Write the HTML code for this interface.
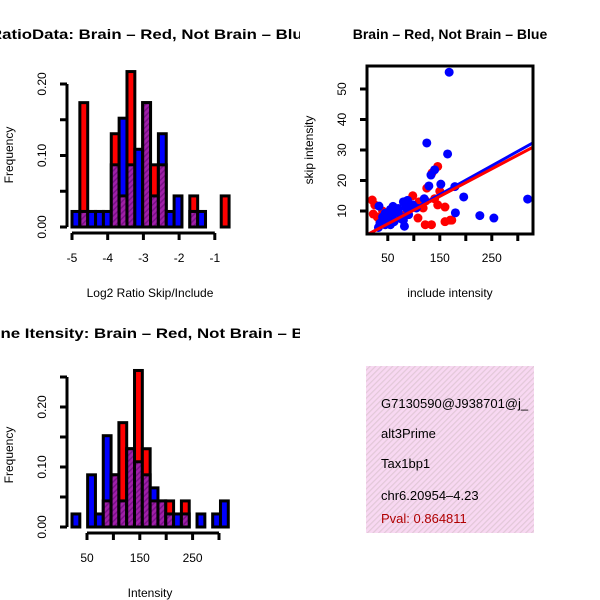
<!DOCTYPE html>
<html><head><meta charset="utf-8"><style>
html,body{margin:0;padding:0;background:#fff;}
svg{display:block;font-family:"Liberation Sans",sans-serif;}
</style></head><body>
<svg id="chart" width="600" height="600" viewBox="0 0 600 600" xmlns="http://www.w3.org/2000/svg">
<defs>
<pattern id="hatch" width="4" height="4" patternUnits="userSpaceOnUse" patternTransform="rotate(45)">
<rect width="4" height="4" fill="#a020a8"/><rect width="1.5" height="4" fill="#7a1088"/></pattern>
<pattern id="pinkhatch" width="4" height="4" patternUnits="userSpaceOnUse" patternTransform="rotate(45)">
<rect width="4" height="4" fill="#f8d8f2"/><rect width="1.2" height="4" fill="#e2c8d8"/></pattern>
<clipPath id="clipL"><rect x="0" y="0" width="300" height="600"/></clipPath>
<clipPath id="clipR"><rect x="300" y="0" width="300" height="600"/></clipPath>
<clipPath id="clipBox"><rect x="366" y="366" width="168" height="167"/></clipPath>
</defs>
<g id="g-tl" clip-path="url(#clipL)"></g>
<g id="g-tr" clip-path="url(#clipR)"></g>
<g id="g-bl" clip-path="url(#clipL)"></g>
<g>
<rect x="366" y="366" width="168" height="167" fill="url(#pinkhatch)"/>
<g clip-path="url(#clipBox)" font-size="13">
<text x="381" y="408">G7130590@J938701@j_</text>
<text x="381" y="438">alt3Prime</text>
<text x="381" y="468">Tax1bp1</text>
<text x="381" y="500">chr6.20954–4.23</text>
<text x="381" y="523" fill="#b00000">Pval: 0.864811</text>
</g></g>
</svg>
<script>
// ---- Ratio histogram data ----
const ratioBinStart = -5;
const ratioBinWidth = 0.22;
const ratioRed  = [0,8,0,0,0,6,2,10,0,8,4,4,0,0,0,2,0,0,0,2];
const ratioBlue = [1,1,1,1,1,4,7,4,5,8,2,6,1,2,0,1,1,0,0,0];
const ratioXTicks = [-5,-4,-3,-2,-1];
const freqTicks = [0,0.05,0.10,0.15,0.20];
const freqTickLabels = ["0.00","","0.10","","0.20"];
// ---- Intensity histogram data ----
const intBinStart = 21.6;
const intBinWidth = 14.8;
const intRed  = [0,0,0,0,2,4,8,6,12,6,2,2,2,0,2,0,0,0,0,0];
const intBlue = [1,0,4,1,7,4,2,6,5,4,3,2,1,1,1,0,1,0,1,2];
const intXTicks = [50,100,150,200,250,300];
const intXTickLabels = ["50","","150","","250",""];
const intYTicks = [0,0.05,0.10,0.15,0.20,0.25];
const intYTickLabels = ["0.00","","0.10","","0.20",""];
const total = 46;
// ---- Scatter data ----
const redInc  = [20,98,123,135,146,125,146,160,134,122,160,173,170,108,25,22,150,60,75,90,45,110,118,140,35,55,85,100,30,40];
const redSkip = [13.6,15,13.3,22.5,24.6,17.5,12,11.3,5.5,5.5,6.5,7,7,7.7,12,9,16.5,10,8.5,12,9.5,13,11,14,6.5,7.5,9,11.5,8,10];
const blueInc  = [168,125,165,140,133,129,152,179,196,180,227,254,319,33,45,55,60,70,80,85,90,80,62,50,45,32,42,75,90,98,88,60,48,35,82,120,70,55,105,40];
const blueSkip = [55.5,32.3,28.7,23.5,21.8,18.2,18.8,18,14.6,9.4,8.5,7.7,13.9,11.6,9.3,10.5,11.5,10.8,13,11,10.5,7,6.5,8,5.5,4.6,6.5,7.5,8.8,12,13.5,9,7.5,6,5,14,9.5,5.5,11,8];
const scatXTicks = [50,100,150,200,250,300];
const scatXTickLabels = ["50","","150","","250",""];
const scatYTicks = [10,20,30,40,50];
const fitRed  = [1.3, 0.090];
const fitBlue = [1.2, 0.0946];

const NS = "http://www.w3.org/2000/svg";
function mk(parent, tag, attrs, text){
  const e = document.createElementNS(NS, tag);
  for (const k in attrs) e.setAttribute(k, attrs[k]);
  if (text !== undefined) e.textContent = text;
  parent.appendChild(e);
  return e;
}

function histogram(g, red, blue, bStart, bWidth, xs, ys, xTicks, xLabels, yTicks, yLabels, xAxisY, yAxisX){
  for (let i=0;i<red.length;i++){
    const r=red[i], b=blue[i];
    const hi=Math.max(r,b), lo=Math.min(r,b);
    if (hi===0) continue;
    const x0=xs(bStart+i*bWidth), x1=xs(bStart+(i+1)*bWidth);
    const bar = mk(g,'rect',{x:x0,y:ys(hi/total),width:x1-x0,height:ys(0)-ys(hi/total),fill:r>b?'#ff0000':'#0000ff',stroke:'#000','stroke-width':3});
    
    
    if (lo>0){
      const ov = mk(g,'rect',{x:x0,y:ys(lo/total),width:x1-x0,height:ys(0)-ys(lo/total),fill:'url(#hatch)',stroke:'#000','stroke-width':3});
      
      
    }
  }
  const xa = mk(g,'line',{x1:xs(xTicks[0]),x2:xs(xTicks[xTicks.length-1]),y1:xAxisY,y2:xAxisY,stroke:'#000','stroke-width':3});
  
  
  xTicks.forEach((t,i)=>{
    mk(g,'line',{x1:xs(t),x2:xs(t),y1:xAxisY,y2:xAxisY+7,stroke:'#000','stroke-width':3});
    if (xLabels[i]!==''){
      const tl = mk(g,'text',{x:xs(t),y:xAxisY+29,'text-anchor':'middle','font-size':12},xLabels[i]);
      
      
    }
  });
  const ya = mk(g,'line',{x1:yAxisX,x2:yAxisX,y1:ys(yTicks[0]),y2:ys(yTicks[yTicks.length-1]),stroke:'#000','stroke-width':3});
  
  
  yTicks.forEach((t,i)=>{
    mk(g,'line',{x1:yAxisX-7,x2:yAxisX,y1:ys(t),y2:ys(t),stroke:'#000','stroke-width':3});
    if (yLabels[i]!==''){
      const tl = mk(g,'text',{x:0,y:0,'text-anchor':'middle','font-size':12,transform:`translate(${yAxisX-21},${ys(t)}) rotate(-90)`},yLabels[i]);
      
      
    }
  });
}

// Top-left
const gtl = document.getElementById('g-tl');
const xsR = v => 72 + (v+5)*35.7;
const ysR = f => 227 - f*715;
histogram(gtl, ratioRed, ratioBlue, ratioBinStart, ratioBinWidth, xsR, ysR, ratioXTicks, ratioXTicks.map(String), freqTicks, freqTickLabels, 233, 67);
let t = mk(gtl,'text',{x:-10,y:39,'font-size':14,'font-weight':'bold',textLength:322,lengthAdjust:'spacingAndGlyphs'},'RatioData: Brain – Red, Not Brain – Blue');


t = mk(gtl,'text',{x:150,y:297,'text-anchor':'middle','font-size':12},'Log2 Ratio Skip/Include');


t = mk(gtl,'text',{x:0,y:0,'text-anchor':'middle','font-size':12,transform:'translate(13,155) rotate(-90)'},'Frequency');



// Bottom-left
const gbl = document.getElementById('g-bl');
const xsI = v => 87 + (v-50)*0.528;
const ysI = f => 527 - f*600;
histogram(gbl, intRed, intBlue, intBinStart, intBinWidth, xsI, ysI, intXTicks, intXTickLabels, intYTicks, intYTickLabels, 533, 67);
t = mk(gbl,'text',{x:-22,y:338,'font-size':14,'font-weight':'bold',textLength:350,lengthAdjust:'spacingAndGlyphs'},'Gene Itensity: Brain – Red, Not Brain – Blue');


t = mk(gbl,'text',{x:150,y:597,'text-anchor':'middle','font-size':12},'Intensity');


t = mk(gbl,'text',{x:0,y:0,'text-anchor':'middle','font-size':12,transform:'translate(13,455) rotate(-90)'},'Frequency');



// Scatter
const gtr = document.getElementById('g-tr');
const xsS = v => 367 + (v-10)*0.52;
const ysS = v => 211 - (v-10)*3.05;
const pts = mk(gtr,'g',{'clip-path':'url(#clipBoxS)'});
mk(gtr.ownerSVGElement.querySelector('defs'),'clipPath',{id:'clipBoxS'}).appendChild(document.createElementNS(NS,'rect'));
const cr = document.querySelector('#clipBoxS rect');
cr.setAttribute('x',367);cr.setAttribute('y',66);cr.setAttribute('width',166);cr.setAttribute('height',168);
redInc.forEach((v,i)=>{
  const c = mk(pts,'circle',{cx:xsS(v),cy:ysS(redSkip[i]),r:4.5,fill:'#ff0000'});
  
  
});
blueInc.forEach((v,i)=>{
  const c = mk(pts,'circle',{cx:xsS(v),cy:ysS(blueSkip[i]),r:4.5,fill:'#0000ff'});
  
  
});
[[fitBlue,'#0000ff','blue-fit-line'],[fitRed,'#ff0000','red-fit-line']].forEach(([f,col,nm])=>{
  const l = mk(pts,'line',{x1:xsS(10),y1:ysS(f[0]+f[1]*10),x2:xsS(329),y2:ysS(f[0]+f[1]*329),stroke:col,'stroke-width':3});
  
  
});
const box = mk(gtr,'rect',{x:367,y:66,width:166,height:168,fill:'none',stroke:'#000','stroke-width':3});


scatXTicks.forEach((v,i)=>{
  mk(gtr,'line',{x1:xsS(v),x2:xsS(v),y1:234,y2:241,stroke:'#000','stroke-width':3});
  if (scatXTickLabels[i]!==''){
    const tl = mk(gtr,'text',{x:xsS(v),y:262,'text-anchor':'middle','font-size':12},scatXTickLabels[i]);
    
    
  }
});
scatYTicks.forEach(v=>{
  mk(gtr,'line',{x1:360,x2:367,y1:ysS(v),y2:ysS(v),stroke:'#000','stroke-width':3});
  const tl = mk(gtr,'text',{x:0,y:0,'text-anchor':'middle','font-size':12,transform:`translate(346,${ysS(v)}) rotate(-90)`},String(v));
  
  
});
t = mk(gtr,'text',{x:450,y:39,'text-anchor':'middle','font-size':14,'font-weight':'bold'},'Brain – Red, Not Brain – Blue');


t = mk(gtr,'text',{x:450,y:297,'text-anchor':'middle','font-size':12},'include intensity');


t = mk(gtr,'text',{x:0,y:0,'text-anchor':'middle','font-size':12,transform:'translate(313,150) rotate(-90)'},'skip intensity');


</script>
</body></html>
